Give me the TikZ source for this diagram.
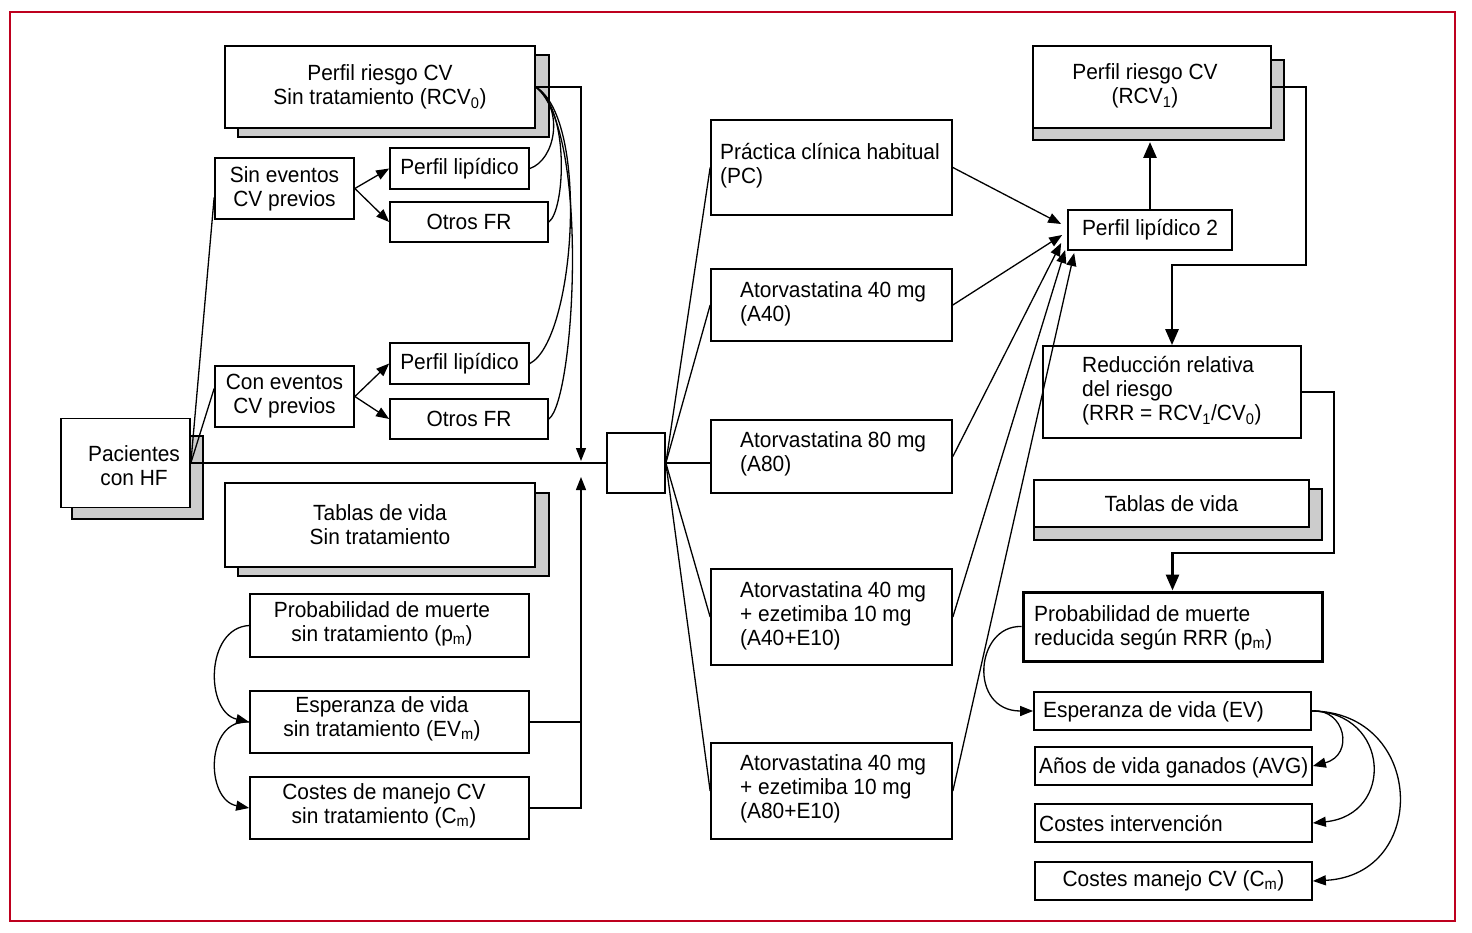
\documentclass[tikz,border=0pt]{standalone}
\usepackage{fontspec}
\setmainfont[FakeStretch=0.95]{Liberation Sans}
\usetikzlibrary{arrows.meta,calc}
\newcommand{\sbs}[1]{\textsubscript{#1}}
\newcommand{\dfont}{\fontsize{22}{24}\selectfont}
\definecolor{framered}{RGB}{190,0,30}
\definecolor{shadegray}{RGB}{204,204,204}
\begin{document}
\begin{tikzpicture}[x=1pt,y=-1pt,
  bx/.style={draw, line width=1.7pt, fill=white, inner sep=0pt, align=center, font=\dfont},
  txt/.style={inner sep=0pt, align=left, font=\dfont, anchor=west},
  ctxt/.style={inner sep=0pt, align=center, font=\dfont},
  shd/.style={draw, line width=1.7pt, fill=shadegray},
  cn/.style={line width=1.3pt},
  tk/.style={line width=2.8pt},
  ah/.style={-{Triangle[length=13pt,width=10pt]}},
  ahk/.style={-{Triangle[length=16pt,width=13pt]}}]
\useasboundingbox (0,0) rectangle (1472,933);
\fill[white] (0,0) rectangle (1472,933);
\draw[framered, line width=2pt] (10,12) rectangle (1455,921);

% shadows
\draw[shd] (238,55) rectangle (549,137);
\draw[shd] (72,436) rectangle (203,519);
\draw[shd] (238,493) rectangle (549,576);
\draw[shd] (1033,60) rectangle (1284,140);
\draw[shd] (1034,489) rectangle (1322,540);

% left boxes
\node[bx, minimum width=310pt, minimum height=82pt] (rcv0) at (380,87) {Perfil riesgo CV\\Sin tratamiento (RCV\sbs{0})};
\node[bx, minimum width=139pt, minimum height=61pt] (sin) at (284.5,188.5) {Sin eventos\\CV previos};
\node[bx, minimum width=139pt, minimum height=41pt] (pl1) at (459.5,168.5) {Perfil lipídico};
\node[bx, minimum width=158pt, minimum height=40pt] (of1) at (469,222) {Otros FR};
\node[bx, minimum width=139pt, minimum height=61pt] (con) at (284.5,396.5) {Con eventos\\CV previos};
\node[bx, minimum width=139pt, minimum height=41pt] (pl2) at (459.5,363.5) {Perfil lipídico};
\node[bx, minimum width=158pt, minimum height=40pt] (of2) at (469,419) {Otros FR};
\node[bx, minimum width=129pt, minimum height=89pt] (pac) at (125.5,463) {};
\node[ctxt] (pact) at (134,466) {Pacientes\\con HF};
\node[bx, minimum width=310pt, minimum height=84pt] (tab0) at (380,525) {Tablas de vida\\Sin tratamiento};
\node[bx, minimum width=279pt, minimum height=63pt] (prob0) at (389.5,625.5) {};
\node[ctxt] (prob0t) at (382,624) {Probabilidad de muerte\\sin tratamiento (p\sbs{m})};
\node[bx, minimum width=279pt, minimum height=62pt] (ev0) at (389.5,722) {};
\node[ctxt] (ev0t) at (382,719) {Esperanza de vida\\sin tratamiento (EV\sbs{m})};
\node[bx, minimum width=279pt, minimum height=62pt] (cm0) at (389.5,808) {};
\node[ctxt] (cm0t) at (384,806) {Costes de manejo CV\\sin tratamiento (C\sbs{m})};

% middle
\node[bx, minimum width=58pt, minimum height=60pt] (hub) at (636,463) {};
\node[bx, minimum width=241pt, minimum height=95pt] (pc) at (831.5,167.5) {};
\node[bx, minimum width=241pt, minimum height=72pt] (a40) at (831.5,305) {};
\node[bx, minimum width=241pt, minimum height=73pt] (a80) at (831.5,456.5) {};
\node[bx, minimum width=241pt, minimum height=96pt] (a40e) at (831.5,617) {};
\node[bx, minimum width=241pt, minimum height=96pt] (a80e) at (831.5,791) {};
\node[txt] (pct) at (720,166) {Práctica clínica habitual\\(PC)};
\node[txt] (a40t) at (740,304) {Atorvastatina 40 mg\\(A40)};
\node[txt] (a80t) at (740,454) {Atorvastatina 80 mg\\(A80)};
\node[txt] (a40et) at (740,616) {Atorvastatina 40 mg\\+ ezetimiba 10 mg\\(A40+E10)};
\node[txt] (a80et) at (740,789) {Atorvastatina 40 mg\\+ ezetimiba 10 mg\\(A80+E10)};

% right
\node[bx, minimum width=164pt, minimum height=40pt] (pl2b) at (1150,230) {Perfil lipídico 2};
\node[bx, minimum width=238pt, minimum height=82pt] (rcv1) at (1152,87) {};
\node[ctxt] (rcv1t) at (1145,86) {Perfil riesgo CV\\(RCV\sbs{1})};
\node[bx, minimum width=258pt, minimum height=92pt] (rrr) at (1172,392) {};
\node[txt] (rrrt) at (1082,391) {Reducción relativa\\del riesgo\\(RRR = RCV\sbs{1}/CV\sbs{0})};
\node[bx, minimum width=275pt, minimum height=47pt] (tab1) at (1171.5,503.5) {Tablas de vida};
\node[bx, line width=3pt, minimum width=299pt, minimum height=69pt] (pmr) at (1172.5,626.5) {};
\node[txt] (pmrt) at (1034,628) {Probabilidad de muerte\\reducida según RRR (p\sbs{m})};
\node[bx, minimum width=277pt, minimum height=38pt] (ev1) at (1172.5,711) {};
\node[txt] (ev1t) at (1043,712) {Esperanza de vida (EV)};
\node[bx, minimum width=277pt, minimum height=38pt] (avg) at (1173.5,766) {};
\node[txt] (avgt) at (1039,768) {Años de vida ganados (AVG)};
\node[bx, minimum width=277pt, minimum height=38pt] (ci) at (1173.5,823) {};
\node[txt] (cit) at (1039,824) {Costes intervención};
\node[bx, minimum width=277pt, minimum height=38pt] (cm1) at (1173.5,881) {Costes manejo CV (C\sbs{m})};

% coordinates
\coordinate (jn) at (581,87);
\coordinate (jt) at (581,461);
\coordinate (jb) at (581,477);
\coordinate (rcv1b) at (1150,142);
\coordinate (r1) at (1306,265);
\coordinate (r2) at (1334,553);

% left connectors
\draw[cn] (pac.east) -- ($(sin.west)+(0,9)$);
\draw[cn] (pac.east) -- ($(con.west)+(0,-8)$);
\draw[cn,ah] (sin.east) -- (pl1.west);
\draw[cn,ah] (sin.east) -- (of1.west);
\draw[cn,ah] (con.east) -- (pl2.west);
\draw[cn,ah] (con.east) -- (of2.west);
\draw[cn] (pl1.east) .. controls (555,160) and (565,110) .. (rcv0.east);
\draw[cn] (of1.east) .. controls (565,210) and (570,110) .. (rcv0.east);
\draw[cn] (pl2.east) .. controls (575,340) and (590,120) .. (rcv0.east);
\draw[cn] (of2.east) .. controls (575,400) and (590,130) .. (rcv0.east);
\draw[cn,ah] (rcv0.east) -- (rcv0.east -| jn) -- (jt);
\draw[line width=2.6pt] (pac.east) -- (hub.west);
\draw[cn,ah] (cm0.east) -- (cm0.east -| jn) -- (jb);
\draw[cn] (ev0.east) -- (ev0.east -| jn);
\draw[cn,ah] (prob0.west) .. controls (205,628) and (205,712) .. (ev0.west);
\draw[cn,ah] (ev0.west) .. controls (205,718) and (205,800) .. (cm0.west);

% fan
\foreach \t in {pc,a40,a40e,a80e} \draw[cn] (hub.east) -- (\t.west);
\draw[cn] (hub.east) -- (hub.east -| a80.west);
\draw[cn,ah] (pc.east) -- ($(pl2b.west)+(-6,-6)$);
\draw[cn,ah] (a40.east) -- ($(pl2b.west)+(-5,5)$);
\draw[cn,ah] (a80.east) -- ($(pl2b.west)+(-6,13)$);
\draw[cn,ah] (a40e.east) -- ($(pl2b.west)+(-2,20)$);
\draw[cn,ah] (a80e.east) -- ($(pl2b.west)+(7,23)$);

% right thick
\draw[tk,ahk] (pl2b.north) -- (rcv1b);
\draw[tk,ahk] (rcv1.east) -- (rcv1.east -| r1) -- (r1) -- (r1 -| rrr.north) -- (rrr.north);
\draw[tk,ahk] (rrr.east) -- (rrr.east -| r2) -- (r2) -- (r2 -| pmr.north) -- (pmr.north);

% right curves
\draw[cn,ah] (pmr.west) .. controls (975,625) and (968,711) .. (ev1.west);
\draw[cn,ah] (ev1.east) .. controls (1345,708) and (1355,755) .. (avg.east);
\draw[cn,ah] (ev1.east) .. controls (1390,712) and (1395,815) .. (ci.east);
\draw[cn,ah] (ev1.east) .. controls (1425,712) and (1430,875) .. (cm1.east);
\end{tikzpicture}
\end{document}
